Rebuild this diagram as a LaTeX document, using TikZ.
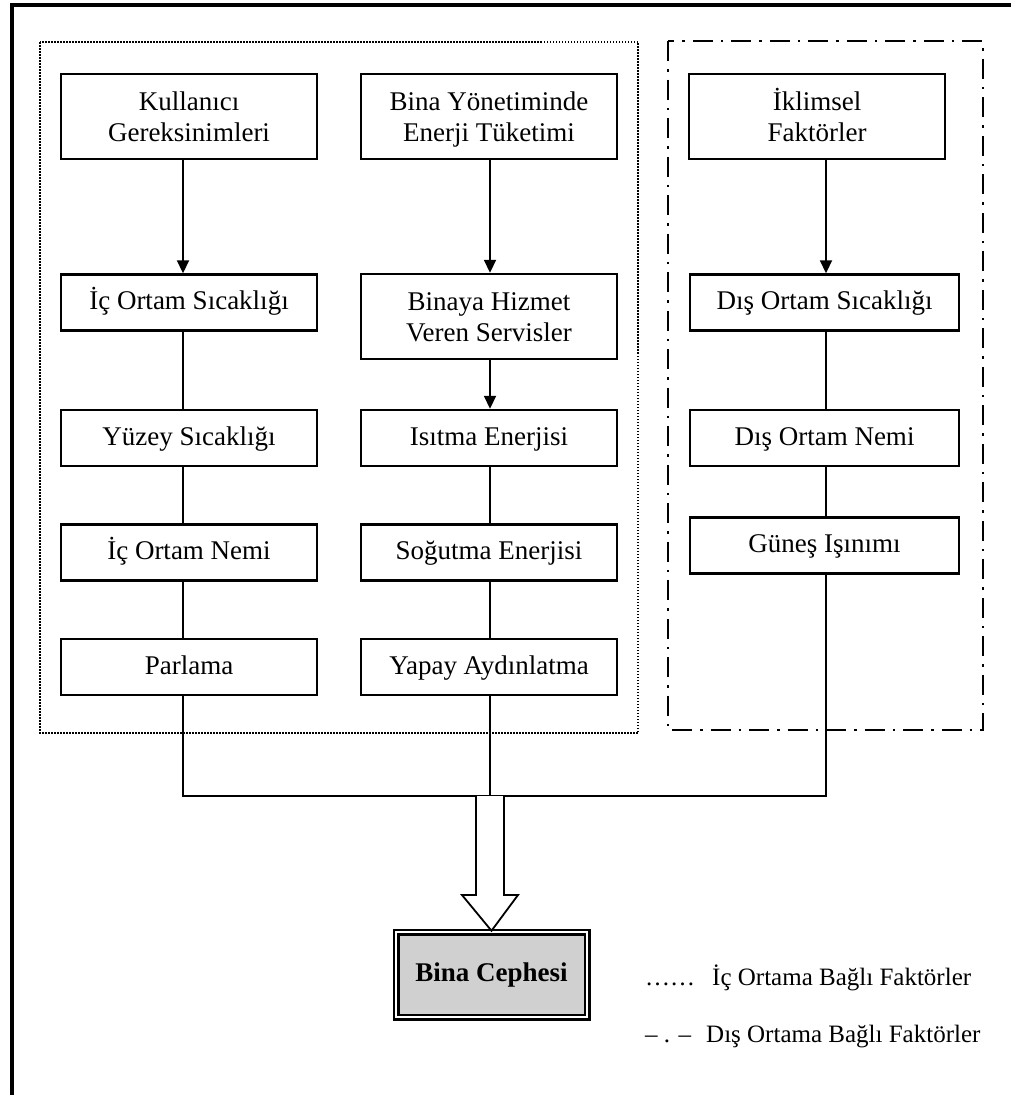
\documentclass[tikz,border=0pt]{standalone}
\usepackage{fontspec}
\setmainfont{Liberation Serif}
\usetikzlibrary{arrows.meta,calc}
\newcommand{\diagfont}{\fontsize{27}{31}\selectfont}
\newcommand{\legendfont}{\fontsize{25}{30}\selectfont}
\begin{document}
\begin{tikzpicture}[x=1pt,y=-1pt,
  box/.style={draw, line width=2.4pt, inner sep=0pt, align=center, font=\diagfont},
  wide/.style={minimum width=256pt},
  wider/.style={minimum width=269pt},
  tall/.style={minimum height=85pt, text height=50pt, text depth=0pt},
  flat/.style={minimum height=56pt, text height=19pt, text depth=5pt},
  conn/.style={line width=1.8pt},
  arr/.style={conn, -{Triangle[length=13pt,width=12pt]}},
  innergroup/.style={line width=2.2pt, dash pattern=on 1.5pt off 1.5pt},
  outergroup/.style={line width=2.4pt, dash pattern=on 20pt off 8pt on 2.5pt off 8pt},
  legend/.style={anchor=base west, inner sep=0pt, font=\legendfont}]
\useasboundingbox (0,0) rectangle (1011,1095);
\fill[white] (0,0) rectangle (1011,1095);
% page frame
\draw[line width=4pt] (12,1095) -- (12,5) -- (1011,5);

% group frames
\draw[innergroup] (40,42) rectangle (638,733);
\draw[outergroup] (668,41) rectangle (983,730);

% connector columns
\coordinate (c1) at (183,0);
\coordinate (c2) at (490,0);
\coordinate (c3) at (826,0);

% indoor user requirements
\node[box,wide,tall] (kg)   at (189,116.5) {Kullanıcı\\Gereksinimleri};
\node[box,wide,flat] (ios)  at (189,302.5) {İç Ortam Sıcaklığı};
\node[box,wide,flat] (ys)   at (189,438)   {Yüzey Sıcaklığı};
\node[box,wide,flat] (ion)  at (189,552.5) {İç Ortam Nemi};
\node[box,wide,flat] (parl) at (189,667)   {Parlama};

% building energy management
\node[box,wide,tall] (bye)  at (489,116.5) {Bina Yönetiminde\\Enerji Tüketimi};
\node[box,wide,tall] (bhs)  at (489,316.5) {Binaya Hizmet\\Veren Servisler};
\node[box,wide,flat] (ie)   at (489,438)   {Isıtma Enerjisi};
\node[box,wide,flat] (se)   at (489,552.5) {Soğutma Enerjisi};
\node[box,wide,flat] (ya)   at (489,667)   {Yapay Aydınlatma};

% climatic factors
\node[box,wide,tall]  (ik)  at (817,116.5)   {İklimsel\\Faktörler};
\node[box,wider,flat] (dos) at (824.5,302.5) {Dış Ortam Sıcaklığı};
\node[box,wider,flat] (don) at (824.5,438)   {Dış Ortam Nemi};
\node[box,wider,flat] (gi)  at (824.5,545.5) {Güneş Işınımı};

% facade
\node[draw, line width=2.5pt, double=white, double distance=2pt,
      fill={rgb,255:red,208;green,208;blue,208},
      minimum width=191pt, minimum height=85pt, inner sep=0pt,
      text height=19pt, text depth=5pt,
      font=\diagfont\bfseries] (bc) at (491.5,974.5) {Bina Cephesi};

% column 1 links
\draw[arr]  (kg.south -| c1)  -- (ios.north -| c1);
\draw[conn] (ios.south -| c1) -- (ys.north -| c1);
\draw[conn] (ys.south -| c1)  -- (ion.north -| c1);
\draw[conn] (ion.south -| c1) -- (parl.north -| c1);

% column 2 links
\draw[arr]  (bye.south -| c2) -- (bhs.north -| c2);
\draw[arr]  (bhs.south -| c2) -- (ie.north -| c2);
\draw[conn] (ie.south -| c2)  -- (se.north -| c2);
\draw[conn] (se.south -| c2)  -- (ya.north -| c2);

% column 3 links
\draw[arr]  (ik.south -| c3)  -- (dos.north -| c3);
\draw[conn] (dos.south -| c3) -- (don.north -| c3);
\draw[conn] (don.south -| c3) -- (gi.north -| c3);

% collecting line
\coordinate (jl) at (183,796);
\coordinate (jm) at (490,796);
\coordinate (jr) at (826,796);
\draw[conn] (parl.south -| c1) -- (jl) -- (jr) -- (gi.south -| c3);
\draw[conn] (ya.south -| c2) -- (jm);

% hollow block arrow into the facade
\draw[line width=1.8pt, fill=white, line join=miter]
  ($(jm)+(-14,0)$) -- ($(jm)+(-14,99)$) -- ($(jm)+(-28,99)$) -- (bc.north)
  -- ($(jm)+(28,99)$) -- ($(jm)+(14,99)$) -- ($(jm)+(14,0)$);

% legend
\node[legend] (l1m) at (645,985)  {……};
\node[legend] (l1t) at (712,985)  {İç Ortama Bağlı Faktörler};
\node[legend] (l2m) at (645,1042) {– . –};
\node[legend] (l2t) at (706,1042) {Dış Ortama Bağlı Faktörler};
\end{tikzpicture}
\end{document}
